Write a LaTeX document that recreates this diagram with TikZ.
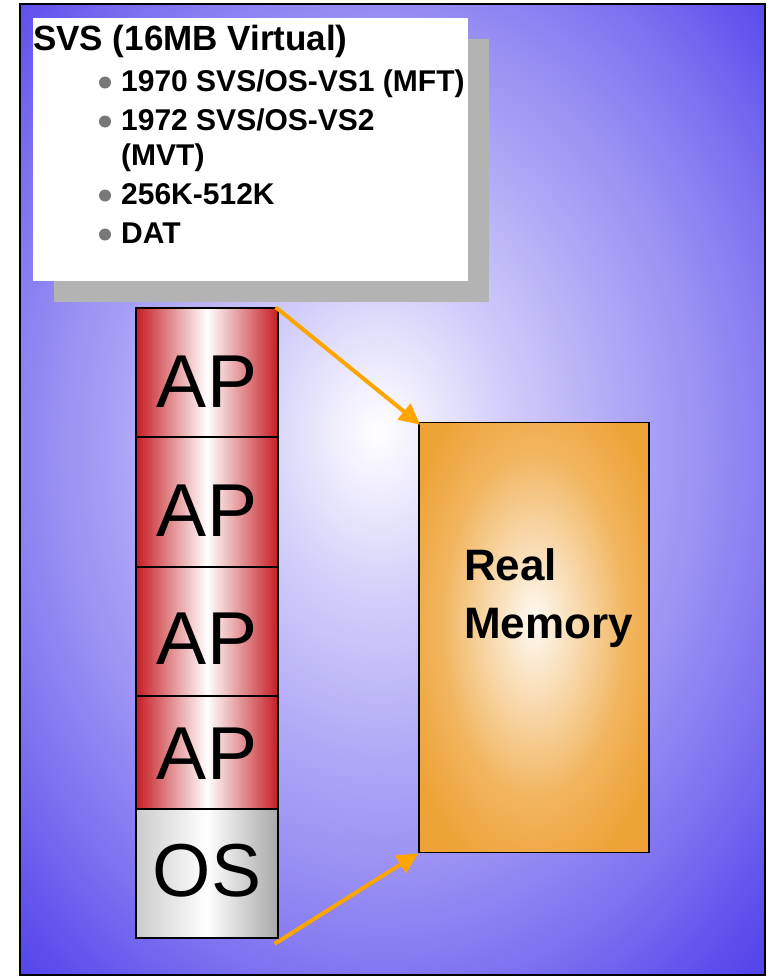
\documentclass[tikz,border=0pt]{standalone}
\usepackage{fontspec}
\setmainfont{Liberation Sans}
\usetikzlibrary{arrows.meta}
\definecolor{bgblue}{RGB}{58,40,232}
\definecolor{apred}{RGB}{196,30,36}
\definecolor{memorange}{RGB}{237,158,45}
\definecolor{arroworange}{RGB}{255,165,0}
\definecolor{shadowgray}{RGB}{179,179,179}
\definecolor{bulletgray}{RGB}{120,120,120}
\pgfdeclareradialshading{bgshade}{\pgfpoint{-1bp}{3bp}}{%
  color(0bp)=(white); color(3bp)=(bgblue!8); color(8bp)=(bgblue!22);
  color(16bp)=(bgblue!40); color(22bp)=(bgblue!52); color(28bp)=(bgblue!66);
  color(34bp)=(bgblue!82); color(40bp)=(bgblue!94); color(46bp)=(bgblue);
  color(72bp)=(bgblue)}
\pgfdeclareradialshading{memshade}{\pgfpoint{0bp}{2bp}}{%
  color(0bp)=(memorange!6); color(10bp)=(memorange!40); color(20bp)=(memorange!76);
  color(30bp)=(memorange!95); color(72bp)=(memorange)}
\tikzset{
  apbox/.style={draw=black, line width=1.5pt, left color=apred, right color=apred,
    middle color=white, minimum width=142pt, inner sep=0pt, text depth=0pt,
    font=\fontsize{75}{75}\selectfont},
  osbox/.style={apbox, left color=black!20, right color=black!34, middle color=white},
  membox/.style={draw=black, line width=1.5pt, shade, shading=memshade,
    minimum width=230pt, minimum height=430pt, inner sep=0pt},
  memlabel/.style={anchor=base west, inner sep=0pt, font=\bfseries\fontsize{44}{50}\selectfont},
  memarrow/.style={draw=arroworange, line width=4pt, -{Triangle[length=21pt,width=20pt]}},
  titletext/.style={anchor=base west, inner sep=0pt, font=\bfseries\fontsize{35}{40}\selectfont},
  itemtext/.style={anchor=base west, inner sep=0pt, font=\bfseries\fontsize{30}{36}\selectfont},
  bulletdot/.style={circle, fill=bulletgray, minimum size=12pt, inner sep=0pt},
  frame/.style={draw=black, line width=2pt, shade, shading=bgshade,
    minimum width=745pt, minimum height=971pt, inner sep=0pt},
  textbox/.style={fill=white, minimum width=435pt, minimum height=263pt, inner sep=0pt}
}
\begin{document}
\begin{tikzpicture}[x=1pt, y=-1pt]
  \fill[white] (0,0) rectangle (771,978);
  \useasboundingbox (0,0) rectangle (771,978);
  % background frame
  \node[frame] (frame) at (392.5,489.5) {};
  % text panel with shadow
  \fill[shadowgray] (54,39) rectangle (489,302);
  \node[textbox] (box) at (250.5,149.5) {};
  \node[titletext] (title) at (33,50) {SVS (16MB Virtual)};
  \node[bulletdot] (b1) at (105,82.5) {};
  \node[itemtext] (t1) at (121,91) {1970 SVS/OS-VS1 (MFT)};
  \node[bulletdot] (b2) at (105,121.5) {};
  \node[itemtext] (t2) at (121,130) {1972 SVS/OS-VS2};
  \node[itemtext] (t2b) at (121,165) {(MVT)};
  \node[bulletdot] (b3) at (105,195.5) {};
  \node[itemtext] (t3) at (121,204) {256K-512K};
  \node[bulletdot] (b4) at (105,234.5) {};
  \node[itemtext] (t4) at (121,243) {DAT};
  % memory stack
  \node[apbox, minimum height=130pt, text height=68pt] (ap1) at (207,373) {AP};
  \node[apbox, minimum height=130pt, text height=68pt] (ap2) at (207,502) {AP};
  \node[apbox, minimum height=129pt, text height=65pt] (ap3) at (207,631.5) {AP};
  \node[apbox, minimum height=114pt, text height=52pt] (ap4) at (207,753) {AP};
  \node[osbox, minimum height=129pt, text height=45pt] (os) at (207,873.5) {OS};
  % real memory
  \node[membox] (mem) at (534,637.5) {};
  \node[memlabel] (realtxt) at (464,580) {Real};
  \node[memlabel] (memtxt) at (464,638) {Memory};
  % arrows
  \draw[memarrow] ([shift={(-3,0)}]ap1.north east) -- ([shift={(2,3)}]mem.north west);
  \draw[memarrow] ([shift={(-4,5)}]os.south east) -- (mem.south west);
\end{tikzpicture}
\end{document}
